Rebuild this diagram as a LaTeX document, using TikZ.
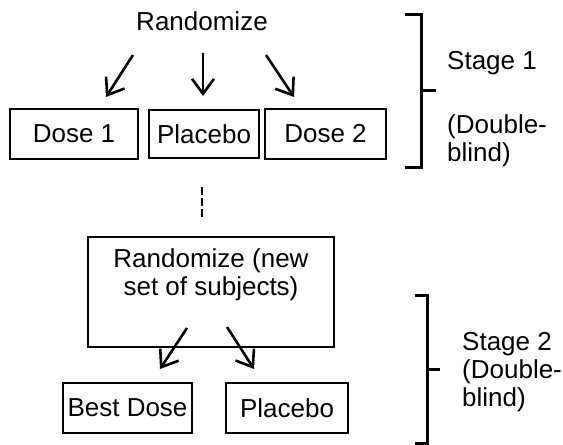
\documentclass[tikz,border=0pt]{standalone}
\usepackage{fontspec}
\setmainfont{Liberation Sans}
\usetikzlibrary{arrows.meta}
\begin{document}
\begin{tikzpicture}[x=1pt,y=-1pt,
  lbl/.style={font=\fontsize{26}{28}\selectfont, inner sep=0pt},
  boxn/.style={draw, line width=2.6pt, inner sep=0pt, minimum height=50pt, font=\fontsize{26}{28}\selectfont},
  arr/.style={line width=2.6pt, -{Straight Barb[length=15pt,width=22pt,line width=2.6pt]}},
  brk/.style={line width=3pt}]
\useasboundingbox (0,0) rectangle (563,445);
% Stage 1
\node[lbl] (r1) at (202,21) {Randomize};
\node[boxn, minimum width=128pt] (d1) at (74,134) {Dose 1};
\node[boxn, minimum width=110pt, minimum height=48pt] (p1) at (204,134) {Placebo};
\node[boxn, minimum width=121pt] (d2) at (325.5,134) {Dose 2};
\coordinate (a1s) at (133,55); \coordinate (a1e) at (106,97);
\coordinate (a2s) at (203,53); \coordinate (a2e) at (203,96);
\coordinate (a3s) at (266,55); \coordinate (a3e) at (294,97);
\draw[arr] (a1s) -- (a1e);
\draw[arr] (a2s) -- (a2e);
\draw[arr] (a3s) -- (a3e);
% bracket 1
\coordinate (b1t) at (405,14); \coordinate (b1b) at (405,167);
\coordinate (b1m) at (421,90); \coordinate (b1p) at (436,90);
\draw[brk] (b1t) -| (b1m) |- (b1b);
\draw[brk] (b1m) -- (b1p);
\node[lbl, anchor=west] (s1) at (447,63) {Stage 1};
\node[lbl, anchor=west, align=left] (s1b) at (447,141) {(Double-\\blind)};
% connector between stages
\coordinate (dl1) at (202,187); \coordinate (dl2) at (202,218);
\draw[line width=2.4pt, dash pattern=on 7.5pt off 3.5pt] (dl1) -- (dl2);
% Stage 2
\node[draw, line width=2.6pt, minimum width=246pt, minimum height=110pt, inner sep=0pt] (big) at (211,292) {};
\node[lbl, align=center] (bigt) at (211,275) {Randomize (new\\set of subjects)};
\node[boxn, minimum width=129pt] (bd) at (127.5,408) {Best Dose};
\node[boxn, minimum width=122pt] (p2) at (287,408) {Placebo};
\coordinate (c1s) at (187,328); \coordinate (c1e) at (160,369);
\coordinate (c2s) at (227,327); \coordinate (c2e) at (254,369);
\draw[arr] (c1s) -- (c1e);
\draw[arr] (c2s) -- (c2e);
% bracket 2
\coordinate (b2t) at (415,295); \coordinate (b2b) at (415,443);
\coordinate (b2m) at (427,369); \coordinate (b2p) at (440,369);
\draw[brk] (b2t) -| (b2m) |- (b2b);
\draw[brk] (b2m) -- (b2p);
\node[lbl, anchor=west, align=left] (s2) at (462,372) {Stage 2\\(Double-\\blind)};
\end{tikzpicture}
\end{document}
